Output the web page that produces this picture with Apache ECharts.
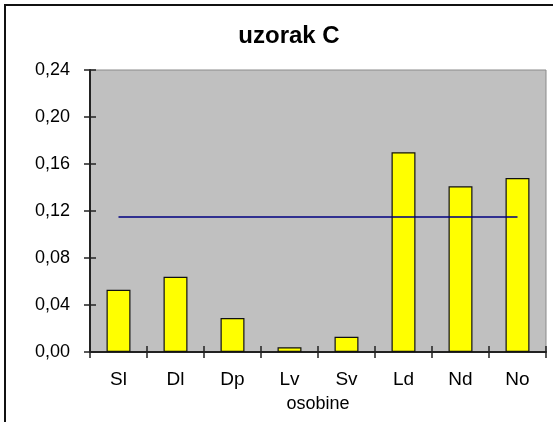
<!DOCTYPE html>
<html>
<head>
<meta charset="utf-8">
<title>uzorak C</title>
<script src="https://cdn.jsdelivr.net/npm/echarts@6/dist/echarts.min.js"></script>
<style>
  html, body { margin: 0; padding: 0; background: #fff; }
  #chart { width: 553px; height: 422px; }
</style>
</head>
<body>
<div id="chart"></div>
<script>
// Trait codes on the category axis
var categories = ['Sl', 'Dl', 'Dp', 'Lv', 'Sv', 'Ld', 'Nd', 'No'];
// Bar values per trait
var values = [0.053, 0.064, 0.029, 0.004, 0.013, 0.170, 0.141, 0.148];
// Horizontal reference level drawn across all traits
var refLevel = [0.115, 0.115, 0.115, 0.115, 0.115, 0.115, 0.115, 0.115];
// Value axis ticks
var yTicks = [0, 0.04, 0.08, 0.12, 0.16, 0.20, 0.24];

var FONT = '"Liberation Sans", Arial, sans-serif';
var yMin = yTicks[0], yMax = yTicks[yTicks.length - 1], yStep = yTicks[1] - yTicks[0];

function fmt(v) { return v.toFixed(2).replace('.', ','); }

var chart = echarts.init(document.getElementById('chart'), null, { renderer: 'canvas' });

var axisLineStyle = { color: '#222', width: 2 };
var tickStyle = { color: '#222', width: 1.5 };
var gridBox = { left: 90, right: 7, top: 70, bottom: 70 };

chart.setOption({
  animation: false,
  backgroundColor: '#fff',
  title: {
    text: 'uzorak C',
    left: 284,
    top: 19,
    textAlign: 'center',
    textStyle: { fontFamily: FONT, fontSize: 24, fontWeight: 'bold', color: '#000' }
  },
  grid: [
    Object.assign({
      show: true,
      backgroundColor: '#c0c0c0',
      borderColor: '#8a8a8a',
      borderWidth: 1
    }, gridBox),
    // overlay grid carrying the inner half of the crossing tick marks
    Object.assign({ show: false }, gridBox)
  ],
  xAxis: [{
    type: 'category',
    gridIndex: 0,
    data: categories,
    boundaryGap: true,
    name: 'osobine',
    nameLocation: 'middle',
    nameGap: 43,
    nameTextStyle: { fontFamily: FONT, fontSize: 18, color: '#000' },
    axisLine: { lineStyle: axisLineStyle },
    axisTick: { show: true, length: 6, lineStyle: tickStyle },
    axisLabel: { fontFamily: FONT, fontSize: 19, color: '#000', margin: 18 },
    splitLine: { show: false }
  }, {
    type: 'category',
    gridIndex: 1,
    z: 20,
    data: categories,
    boundaryGap: true,
    axisLine: { show: false },
    axisTick: { show: true, inside: true, length: 6, lineStyle: tickStyle },
    axisLabel: { show: false },
    splitLine: { show: false }
  }],
  yAxis: [{
    type: 'value',
    gridIndex: 0,
    min: yMin, max: yMax, interval: yStep,
    axisLine: { show: true, lineStyle: axisLineStyle },
    axisTick: { show: true, length: 6, lineStyle: tickStyle },
    axisLabel: { fontFamily: FONT, fontSize: 18, color: '#000', margin: 20, formatter: fmt },
    splitLine: { show: false }
  }, {
    type: 'value',
    gridIndex: 1,
    z: 20,
    min: yMin, max: yMax, interval: yStep,
    axisLine: { show: false },
    axisTick: { show: true, inside: true, length: 6, lineStyle: tickStyle },
    axisLabel: { show: false },
    splitLine: { show: false }
  }],
  series: [{
    type: 'bar',
    xAxisIndex: 0, yAxisIndex: 0,
    data: values,
    barWidth: '42%',
    itemStyle: { color: '#ffff00', borderColor: '#111', borderWidth: 1.2 },
    z: 2
  }, {
    type: 'line',
    xAxisIndex: 0, yAxisIndex: 0,
    data: refLevel,
    symbol: 'none',
    lineStyle: { color: '#000080', width: 1.5 },
    z: 3
  }, {
    // empty series so the overlay axes get laid out and drawn
    type: 'line',
    xAxisIndex: 1, yAxisIndex: 1,
    data: [],
    silent: true
  }],
  graphic: [{
    type: 'rect',
    shape: { x: 5, y: 5, width: 700, height: 600 },
    style: { fill: 'none', stroke: '#111', lineWidth: 2 },
    z: 10
  }]
});
</script>
</body>
</html>
